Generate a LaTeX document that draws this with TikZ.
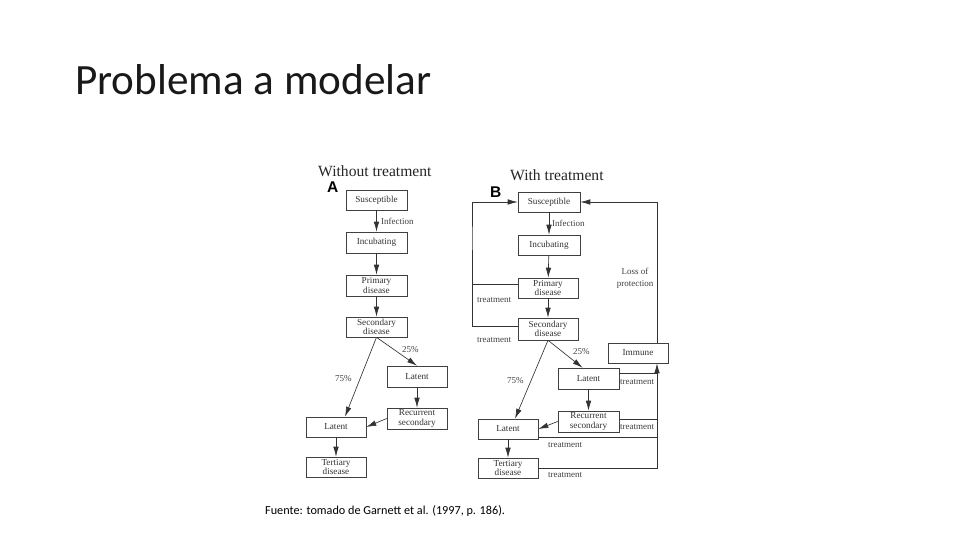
\documentclass[tikz,border=0pt]{standalone}
\usepackage{fontspec}
\setmainfont{Carlito}
\newfontfamily\tnr{Liberation Serif}
\newfontfamily\arl{Liberation Sans}
\usetikzlibrary{arrows.meta,calc}
\begin{document}
\begin{tikzpicture}[x=1pt,y=-1pt,
  box/.style={draw=black!75, line width=0.6pt, fill=white, minimum width=61pt, minimum height=20pt, inner sep=0pt, align=center, text=black!80, font=\tnr\fontsize{9.2}{9.3}\selectfont},
  lbl/.style={text=black!75, font=\tnr\fontsize{9}{9}\selectfont, inner sep=0pt},
  head/.style={text=black!85, font=\tnr\fontsize{15.6}{16}\selectfont, inner sep=0pt, anchor=base west},
  letter/.style={text=black, font=\arl\bfseries\fontsize{15.5}{15.5}\selectfont, inner sep=0pt, anchor=base west},
  arr/.style={-{Latex[length=10pt,width=5.5pt]}, draw=black!80, line width=0.65pt},
  ln/.style={draw=black!80, line width=0.65pt}]
\useasboundingbox (0,0) rectangle (960,540);
\fill[white] (0,0) rectangle (960,540);

% title and caption
\node[anchor=base west, inner sep=0pt, text=black!90, font=\fontsize{43.2}{46}\selectfont] (title) at (75,95) {Problema a modelar};
\node[anchor=base west, inner sep=0pt, font=\fontsize{12.2}{13}\selectfont] (cap) at (265,514) {Fuente: tomado de Garnett et al. (1997, p. 186).};

% ---------------- Panel A ----------------
\node[head] (headA) at (318,177) {Without treatment};
\node[letter] (letA) at (327,193) {A};
\node[box] (sA) at (376.5,200) {Susceptible};
\node[box, minimum height=21pt] (iA) at (376.5,242.5) {Incubating};
\node[box, minimum height=21pt] (pA) at (376.5,285.5) {Primary\\disease};
\node[box] (secA) at (376.5,327) {Secondary\\disease};
\node[box, minimum width=60pt, minimum height=21pt] (latRA) at (417,376.5) {Latent};
\node[box, minimum width=60pt, minimum height=21pt] (recA) at (417,418.5) {Recurrent\\secondary};
\node[box, minimum width=60pt] (latLA) at (336,427) {Latent};
\node[box, minimum width=60pt] (terA) at (336,467) {Tertiary\\disease};

\draw[arr] (sA) -- (iA);
\draw[arr] (iA) -- (pA);
\draw[arr] (pA) -- (secA);
\draw[arr] (secA.south) -- (latRA.north);
\draw[arr] (secA.south) -- ([xshift=9pt]latLA.north);
\draw[arr] (latRA) -- (recA);
\draw[arr] (recA.west) -- (latLA.east);
\draw[arr] (latLA) -- (terA);

\node[lbl, anchor=base west] (infA) at (381,224) {Infection};
\node[lbl, anchor=base west] (p25A) at (402,352) {25\%};
\node[lbl, anchor=base west] (p75A) at (335,381) {75\%};

% ---------------- Panel B ----------------
\node[head] (headB) at (510,180) {With treatment};
\node[letter] (letB) at (490,197) {B};
\node[box, minimum width=62pt] (sB) at (549,202) {Susceptible};
\node[box, minimum width=62pt] (iB) at (549,245) {Incubating};
\node[box, minimum width=60pt] (pB) at (548,288) {Primary\\disease};
\node[box, minimum width=60pt, minimum height=22pt] (secB) at (548,329) {Secondary\\disease};
\node[box, minimum height=21pt] (latRB) at (588.5,378.5) {Latent};
\node[box, minimum height=21pt] (recB) at (588.5,421.5) {Recurrent\\secondary};
\node[box, minimum width=60pt] (latLB) at (508,429) {Latent};
\node[box, minimum width=60pt] (terB) at (508,468) {Tertiary\\disease};
\node[box, minimum width=60pt] (immB) at (638,353) {Immune};

\coordinate (L1) at (472,250);
\coordinate (R1) at (657,300);

\draw[arr] (sB) -- (iB);
\draw[arr] (iB) -- (pB);
\draw[arr] (pB) -- (secB);
\draw[arr] (secB.south) -- ([xshift=-6pt]latRB.north);
\draw[arr] (secB.south) -- ([xshift=7pt]latLB.north);
\draw[arr] (latRB) -- (recB);
\draw[arr] (recB.west) -- (latLB.east);
\draw[arr] (latLB) -- (terB);

% treatment loops
\draw[arr] ([yshift=4pt]pB.west) -| (L1) |- (sB.west);
\draw[ln] ([yshift=3pt]secB.west) -| (L1);
\draw[arr] (R1 |- immB.north) |- (sB.east);
\coordinate (E1) at ([yshift=5pt]latRB.east);
\coordinate (E2) at ([yshift=2.5pt]recB.east);
\coordinate (E3) at ([yshift=-8pt]latLB.east);
\coordinate (E4) at (terB.east);
\draw[ln] (E1) -- (R1 |- E1);
\draw[ln] (E2) -- (R1 |- E2);
\draw[ln] (E3) -- (R1 |- E3);
\draw[arr] (E4) -| (R1 |- immB.south);

\node[lbl, anchor=base west] (infB) at (552,226) {Infection};
\node[lbl, anchor=base west] (p25B) at (573,354) {25\%};
\node[lbl, anchor=base west] (p75B) at (507,383) {75\%};
\node[lbl, anchor=base west] (tr1) at (477,302) {treatment};
\node[lbl, anchor=base west] (tr2) at (477,342) {treatment};
\node[lbl, anchor=base west] (tr3) at (620,384) {treatment};
\node[lbl, anchor=base west] (tr4) at (620,429) {treatment};
\node[lbl, anchor=base west] (tr5) at (548,447) {treatment};
\node[lbl, anchor=base west] (tr6) at (548,477) {treatment};
\node[lbl, align=center, font=\tnr\fontsize{9}{12}\selectfont] (loss) at (635,278) {Loss of\\protection};
\end{tikzpicture}
\end{document}
